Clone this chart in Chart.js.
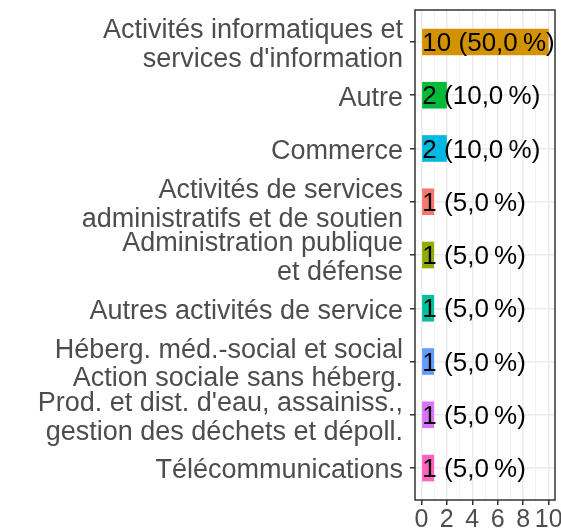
<!DOCTYPE html>
<html>
<head>
<meta charset="utf-8">
<script src="https://cdn.jsdelivr.net/npm/chart.js@4"></script>
<style>
  html, body { margin: 0; padding: 0; background: #ffffff; }
  #wrap { width: 561px; height: 532px; }
</style>
</head>
<body>
<div id="wrap"><canvas id="chart"></canvas></div>
<script>
// categories, top to bottom
const categories = [
    ['Activités informatiques et', "services d'information"],
    ['Autre'],
    ['Commerce'],
    ['Activités de services', 'administratifs et de soutien'],
    ['Administration publique', 'et défense'],
    ['Autres activités de service'],
    ['Héberg. méd.-social et social', 'Action sociale sans héberg.'],
    ["Prod. et dist. d'eau, assainiss.,", 'gestion des déchets et dépoll.'],
    ['Télécommunications']
];
const counts = [10, 2, 2, 1, 1, 1, 1, 1, 1];
const barColors = ['#D39200', '#00BA38', '#00B9E3', '#F8766D', '#93AA00', '#00C19F', '#619CFF', '#DB72FB', '#FF61C3'];
const xTicks = [0, 2, 4, 6, 8, 10];

const total = counts.reduce((a, b) => a + b, 0);
const barLabels = counts.map(function(c) {
    return c + ' (' + (c / total * 100).toFixed(1).replace('.', ',') + '\u202F%)';
});

const FAMILY = '"Liberation Sans", Arial, sans-serif';

// panel border + value labels
const panelPlugin = {
    id: 'panel',
    afterDatasetsDraw: function(chart) {
        const ctx = chart.ctx;
        const meta = chart.getDatasetMeta(0);
        const x0 = chart.scales.x.getPixelForValue(0);
        ctx.save();
        ctx.font = '26px ' + FAMILY;
        ctx.fillStyle = '#000000';
        ctx.textBaseline = 'middle';
        ctx.textAlign = 'left';
        meta.data.forEach(function(bar, i) {
            ctx.fillText(barLabels[i], x0 + 1, bar.y + 2);
        });
        const a = chart.chartArea;
        ctx.strokeStyle = '#333333';
        ctx.lineWidth = 1.5;
        ctx.strokeRect(a.left, a.top, a.right - a.left, a.bottom - a.top);
        ctx.restore();
    }
};

const ctx = document.getElementById('chart').getContext('2d');
new Chart(ctx, {
    type: 'bar',
    data: {
        datasets: [{
            data: counts.map((c, i) => ({ x: c, y: i })),
            backgroundColor: barColors,
            borderWidth: 0,
            categoryPercentage: 1,
            barPercentage: 0.5
        }]
    },
    options: {
        indexAxis: 'y',
        responsive: true,
        maintainAspectRatio: false,
        animation: false,
        layout: { padding: { top: 10, right: 6, left: 0, bottom: 0 } },
        plugins: {
            legend: { display: false },
            tooltip: { enabled: false }
        },
        scales: {
            x: {
                type: 'linear',
                min: -0.5,
                max: 10.5,
                offset: false,
                afterBuildTicks: function(scale) {
                    const t = [];
                    for (let v = 0; v <= 10; v++) t.push({ value: v });
                    scale.ticks = t;
                },
                afterFit: function(scale) {
                    scale.height = 32;
                    scale.paddingLeft = 0;
                    scale.paddingRight = 0;
                },
                border: { display: false },
                grid: {
                    offset: false,
                    color: ctx => ctx.tick && ctx.tick.value % 2 === 0 ? '#EBEBEB' : '#F2F2F2',
                    lineWidth: ctx => ctx.tick && ctx.tick.value % 2 === 0 ? 1.5 : 1,
                    tickColor: ctx => ctx.tick && ctx.tick.value % 2 === 0 ? '#333333' : 'rgba(0,0,0,0)',
                    tickWidth: 1.5,
                    tickLength: 5
                },
                ticks: {
                    color: '#4D4D4D',
                    font: { family: FAMILY, size: 25 },
                    padding: 0,
                    maxRotation: 0,
                    autoSkip: false,
                    callback: v => xTicks.includes(v) ? String(v) : ''
                }
            },
            y: {
                type: 'linear',
                reverse: true,
                min: -0.6,
                max: 8.6,
                offset: false,
                afterBuildTicks: function(scale) {
                    scale.ticks = categories.map((c, i) => ({ value: i }));
                },
                afterFit: function(scale) {
                    scale.width = 415;
                    scale.paddingTop = 0;
                    scale.paddingBottom = 0;
                },
                border: { display: false },
                grid: {
                    offset: false,
                    color: '#EBEBEB',
                    lineWidth: 1.5,
                    tickColor: '#333333',
                    tickWidth: 1.5,
                    tickLength: 5
                },
                ticks: {
                    color: '#4D4D4D',
                    font: { family: FAMILY, size: 27, lineHeight: 1.07 },
                    padding: 7,
                    labelOffset: 3,
                    autoSkip: false,
                    callback: v => categories[v]
                }
            }
        }
    },
    plugins: [panelPlugin]
});
</script>
</body>
</html>
